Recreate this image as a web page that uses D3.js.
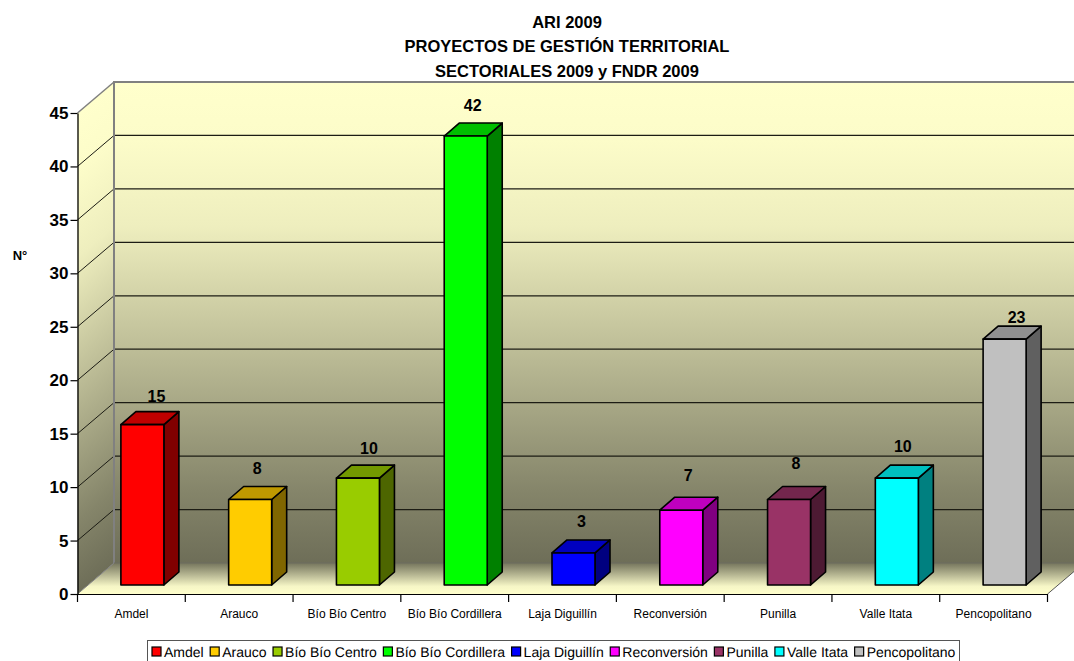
<!DOCTYPE html>
<html>
<head>
<meta charset="utf-8">
<script src="https://cdn.jsdelivr.net/npm/d3@7"></script>
<style>
  html, body { margin: 0; padding: 0; background: #fff; overflow: hidden; }
  svg { display: block; }
  text { font-family: "Liberation Sans", Arial, sans-serif; fill: #000; }
</style>
</head>
<body>
<div id="chart"></div>
<script>
var categories = ["Amdel", "Arauco", "Bío Bío Centro", "Bío Bío Cordillera", "Laja Diguillín", "Reconversión", "Punilla", "Valle Itata", "Pencopolitano"];
var values = [15, 8, 10, 42, 3, 7, 8, 10, 23];
var barColors = ["#ff0000", "#ffcc00", "#99cc00", "#00ff00", "#0000ff", "#ff00ff", "#993366", "#00ffff", "#c0c0c0"];
var yTicks = [0, 5, 10, 15, 20, 25, 30, 35, 40, 45];
var titleLines = ["ARI 2009", "PROYECTOS DE GESTIÓN TERRITORIAL", "SECTORIALES 2009 y FNDR 2009"];
var wallStops = [[0, "#ffffcc"], [0.12, "#fcfcc9"], [0.3, "#eeeebe"], [0.557, "#bdbd97"], [0.85, "#85856a"], [1, "#6e6e58"]];
// value labels were placed by hand in the original, so they do not sit at a constant spot
var labelNudgeX = [1, -6, -2, -6, -5, -6, -6, -7, -1];
var labelNudgeY = [0, -2, -1, -2, -3, -6, -7, -3, 7];

var width = 1074, height = 661;
var depthX = 36.5, depthY = 31;   // wall depth
var barDepthX = 15, barDepthY = 13;
var shiftX = 11, shiftY = 9;      // bars stand a bit inside the floor

var x = d3.scaleBand().domain(categories).range([77.5, 1047.5]);
var y = d3.scaleLinear().domain([0, 45]).range([594, 113]);

var svg = d3.select("#chart").append("svg")
    .attr("width", width)
    .attr("height", height);

var defs = svg.append("defs");

var wallGrad = defs.append("linearGradient")
    .attr("id", "wall")
    .attr("x1", 0).attr("y1", 0).attr("x2", 0).attr("y2", 1);
wallStops.forEach(function(s) {
  wallGrad.append("stop").attr("offset", s[0]).attr("stop-color", s[1]);
});

var floorGrad = defs.append("linearGradient")
    .attr("id", "floor")
    .attr("x1", 0).attr("y1", 0).attr("x2", 0).attr("y2", 1);
floorGrad.append("stop").attr("offset", 0).attr("stop-color", "#75755d");
floorGrad.append("stop").attr("offset", 0.75).attr("stop-color", "#f6f6c6");
floorGrad.append("stop").attr("offset", 1).attr("stop-color", "#ffffcc");

var x0 = x.range()[0], x1 = x.range()[1];

// back wall
svg.append("rect")
    .attr("x", x0 + depthX)
    .attr("y", y(45) - depthY)
    .attr("width", x1 - x0)
    .attr("height", y(0) - y(45))
    .attr("fill", "url(#wall)");

// left wall, sheared so the gradient follows the depth
svg.append("rect")
    .attr("x", 0)
    .attr("y", 0)
    .attr("width", depthX)
    .attr("height", y(0) - y(45))
    .attr("fill", "url(#wall)")
    .attr("transform", "matrix(1," + (-depthY / depthX) + ",0,1," + x0 + "," + y(45) + ")");

// floor
svg.append("path")
    .attr("d", "M" + x0 + "," + y(0) + "L" + (x0 + depthX) + "," + (y(0) - depthY) +
        "L" + (x1 + depthX) + "," + (y(0) - depthY) + "L" + x1 + "," + y(0) + "Z")
    .attr("fill", "url(#floor)");

// grid lines on the walls
var grid = svg.append("g");
grid.selectAll(".grid-side")
    .data(yTicks.filter(function(d) { return d > 0; }))
  .enter().append("line")
    .attr("x1", x0).attr("y1", function(d) { return y(d); })
    .attr("x2", x0 + depthX).attr("y2", function(d) { return y(d) - depthY; })
    .attr("stroke", function(d) { return d == 45 ? "#808080" : "#1c1c14"; })
    .attr("stroke-width", function(d) { return d == 45 ? 1.5 : 1; });
grid.selectAll(".grid-back")
    .data(yTicks.filter(function(d) { return d > 0 && d < 45; }))
  .enter().append("line")
    .attr("x1", x0 + depthX).attr("x2", width)
    .attr("y1", function(d) { return y(d) - depthY; })
    .attr("y2", function(d) { return y(d) - depthY; })
    .attr("stroke", "#1c1c14")
    .attr("stroke-width", 1.2);

// wall frame
svg.append("path")
    .attr("d", "M" + (x0 + depthX) + "," + (y(0) - depthY) + "V" + (y(45) - depthY) + "H" + width)
    .attr("fill", "none")
    .attr("stroke", "#808080")
    .attr("stroke-width", 2);
svg.append("line")
    .attr("x1", x0 + depthX).attr("x2", width)
    .attr("y1", y(0) - depthY).attr("y2", y(0) - depthY)
    .attr("stroke", "#6c6c60");
svg.append("line")
    .attr("x1", x0).attr("y1", y(0))
    .attr("x2", x0 + depthX).attr("y2", y(0) - depthY)
    .attr("stroke", "#808080");
svg.append("line")
    .attr("x1", x1).attr("y1", y(0))
    .attr("x2", x1 + depthX).attr("y2", y(0) - depthY)
    .attr("stroke", "#555");

// y axis
var yAxis = svg.append("g")
    .attr("transform", "translate(" + x0 + ",0)")
    .call(d3.axisLeft(y).tickValues(yTicks).tickSize(7).tickPadding(2).tickSizeOuter(0));
yAxis.select(".domain").attr("stroke", "#000").attr("stroke-width", 1.3);
yAxis.selectAll("line").attr("stroke", "#000").attr("stroke-width", 1.2);
yAxis.selectAll("text")
    .style("font-family", '"Liberation Sans", Arial, sans-serif')
    .style("font-size", "17px")
    .style("font-weight", "bold");

// x axis, ticks sit on the category edges
var xAxis = svg.append("g")
    .attr("transform", "translate(0," + y(0) + ")")
    .call(d3.axisBottom(x).tickSize(0).tickPadding(15));
xAxis.select(".domain").attr("stroke", "#000").attr("stroke-width", 1.2);
xAxis.selectAll("text")
    .style("font-family", '"Liberation Sans", Arial, sans-serif')
    .style("font-size", "12px");
var edges = categories.map(function(d) { return x(d); }).concat([x1]);
xAxis.selectAll(".edge")
    .data(edges)
  .enter().append("line")
    .attr("x1", function(d) { return d; })
    .attr("x2", function(d) { return d; })
    .attr("y1", 0)
    .attr("y2", 8)
    .attr("stroke", "#000")
    .attr("stroke-width", 1.2);

// bars
var barW = 43;
var barLeft = function(d) { return x(d.name) + x.bandwidth() / 2 + shiftX - barW / 2; };
var barTop = function(d) { return y(d.value) - shiftY; };
var barBase = y(0) - shiftY;
var barData = categories.map(function(c, i) {
  return { name: c, value: values[i], color: barColors[i], nudgeX: labelNudgeX[i], nudgeY: labelNudgeY[i] };
});

var shade = function(color, k) {
  var c = d3.rgb(color);
  return d3.rgb(c.r * k, c.g * k, c.b * k).formatHex();
};

var bars = svg.selectAll(".bar")
    .data(barData)
  .enter().append("g")
    .attr("class", "bar")
    .attr("stroke", "#000")
    .attr("stroke-width", 1.6)
    .attr("stroke-linejoin", "round");

bars.append("path")   // right side
    .attr("d", function(d) {
      var r = barLeft(d) + barW;
      return "M" + r + "," + barTop(d) + "l" + barDepthX + "," + (-barDepthY) +
        "V" + (barBase - barDepthY) + "l" + (-barDepthX) + "," + barDepthY + "Z";
    })
    .attr("fill", function(d) { return shade(d.color, 0.5); });

bars.append("path")   // top
    .attr("d", function(d) {
      return "M" + barLeft(d) + "," + barTop(d) + "l" + barDepthX + "," + (-barDepthY) +
        "h" + barW + "l" + (-barDepthX) + "," + barDepthY + "Z";
    })
    .attr("fill", function(d) { return shade(d.color, 0.75); });

bars.append("rect")   // front
    .attr("x", barLeft)
    .attr("y", barTop)
    .attr("width", barW)
    .attr("height", function(d) { return barBase - barTop(d); })
    .attr("fill", function(d) { return d.color; });

svg.selectAll(".value-label")
    .data(barData)
  .enter().append("text")
    .attr("class", "value-label")
    .attr("x", function(d) { return barLeft(d) + barW / 2 + 13 + d.nudgeX; })
    .attr("y", function(d) { return barTop(d) - 23 + d.nudgeY; })
    .attr("text-anchor", "middle")
    .style("font-size", "16px")
    .style("font-weight", "bold")
    .text(function(d) { return d.value; });

// title
svg.selectAll(".title-line")
    .data(titleLines)
  .enter().append("text")
    .attr("class", "title-line")
    .attr("x", 567)
    .attr("y", function(d, i) { return 28 + i * 24.3; })
    .attr("text-anchor", "middle")
    .style("font-size", "16.5px")
    .style("font-weight", "bold")
    .text(function(d) { return d; });

svg.append("text")
    .attr("x", 20)
    .attr("y", 260)
    .attr("text-anchor", "middle")
    .style("font-size", "13px")
    .style("font-weight", "bold")
    .text("N°");

// legend
var legend = svg.append("g");
legend.append("rect")
    .attr("x", 147.5).attr("y", 640.5)
    .attr("width", 812).attr("height", 30)
    .attr("fill", "#fff")
    .attr("stroke", "#555");
var cursor = 152;
categories.forEach(function(c, i) {
  legend.append("rect")
      .attr("x", cursor).attr("y", 647)
      .attr("width", 9).attr("height", 9)
      .attr("fill", barColors[i])
      .attr("stroke", "#000")
      .attr("stroke-width", 1.2);
  var t = legend.append("text")
      .attr("x", cursor + 12).attr("y", 657)
      .style("font-size", "14px")
      .style("text-rendering", "geometricPrecision")
      .text(c);
  cursor += 12 + t.node().getComputedTextLength() + 6.5;
});
</script>
</body>
</html>
